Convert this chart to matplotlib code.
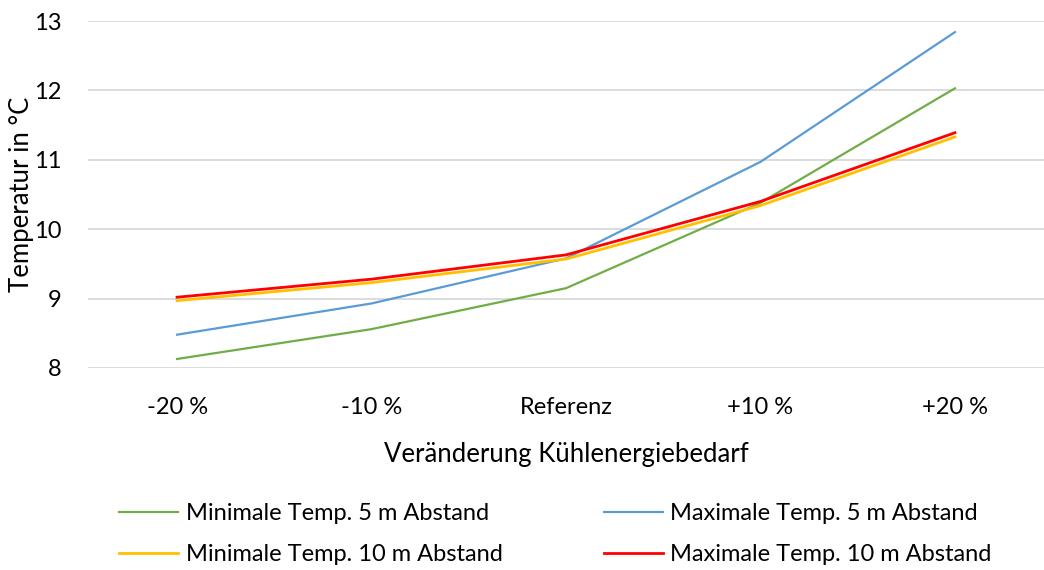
import matplotlib
matplotlib.use("Agg")
import matplotlib.pyplot as plt

# Data.
categories = ["-20 %", "-10 %", "Referenz", "+10 %", "+20 %"]
min_5m = [8.13, 8.56, 9.15, 10.38, 12.03]
max_5m = [8.48, 8.93, 9.58, 10.97, 12.84]
min_10m = [8.97, 9.23, 9.57, 10.34, 11.33]
max_10m = [9.02, 9.28, 9.63, 10.40, 11.39]

plt.rcParams["font.family"] = ["Lato", "DejaVu Sans"]

fig = plt.figure(figsize=(10.44, 5.70), dpi=100)
ax = fig.add_axes([88 / 1044, 202 / 570, 956 / 1044, 347 / 570])

x = range(len(categories))
l_min5, = ax.plot(x, min_5m, color="#70AD47", lw=1.6, label="Minimale Temp. 5 m Abstand")
l_max5, = ax.plot(x, max_5m, color="#5B9BD5", lw=1.6, label="Maximale Temp. 5 m Abstand")
l_min10, = ax.plot(x, min_10m, color="#FFC000", lw=2.0, label="Minimale Temp. 10 m Abstand")
l_max10, = ax.plot(x, max_10m, color="#FF0000", lw=2.0, label="Maximale Temp. 10 m Abstand")

ax.set_xlim(-0.458, 4.458)
ax.set_ylim(8, 13)
ax.set_yticks([8, 9, 10, 11, 12, 13])
ax.set_xticks(list(x))
ax.set_xticklabels(categories)

# Excel-like styling: grey horizontal gridlines, no frame, no tick marks.
ax.grid(True, axis="y", color="#D9D9D9", lw=1.3)
ax.set_axisbelow(True)
for s in ax.spines.values():
    s.set_visible(False)
ax.tick_params(length=0, labelsize=17, colors="#000000")
ax.tick_params(axis="x", pad=21)
ax.tick_params(axis="y", pad=19)

ax.set_xlabel("Veränderung Kühlenergiebedarf", fontsize=18.5, labelpad=17)
ax.set_ylabel("Temperatur in °C", fontsize=18.5)
ax.yaxis.set_label_coords(-54 / 956, 0.5)

fig.legend(handles=[l_min5, l_min10, l_max5, l_max10], ncol=2,
           loc="center", bbox_to_anchor=(0.532, 0.063), frameon=False,
           fontsize=17, handlelength=2.5, handletextpad=0.3,
           columnspacing=4.3, labelspacing=0.85)

fig.savefig("out.png", dpi=100)
